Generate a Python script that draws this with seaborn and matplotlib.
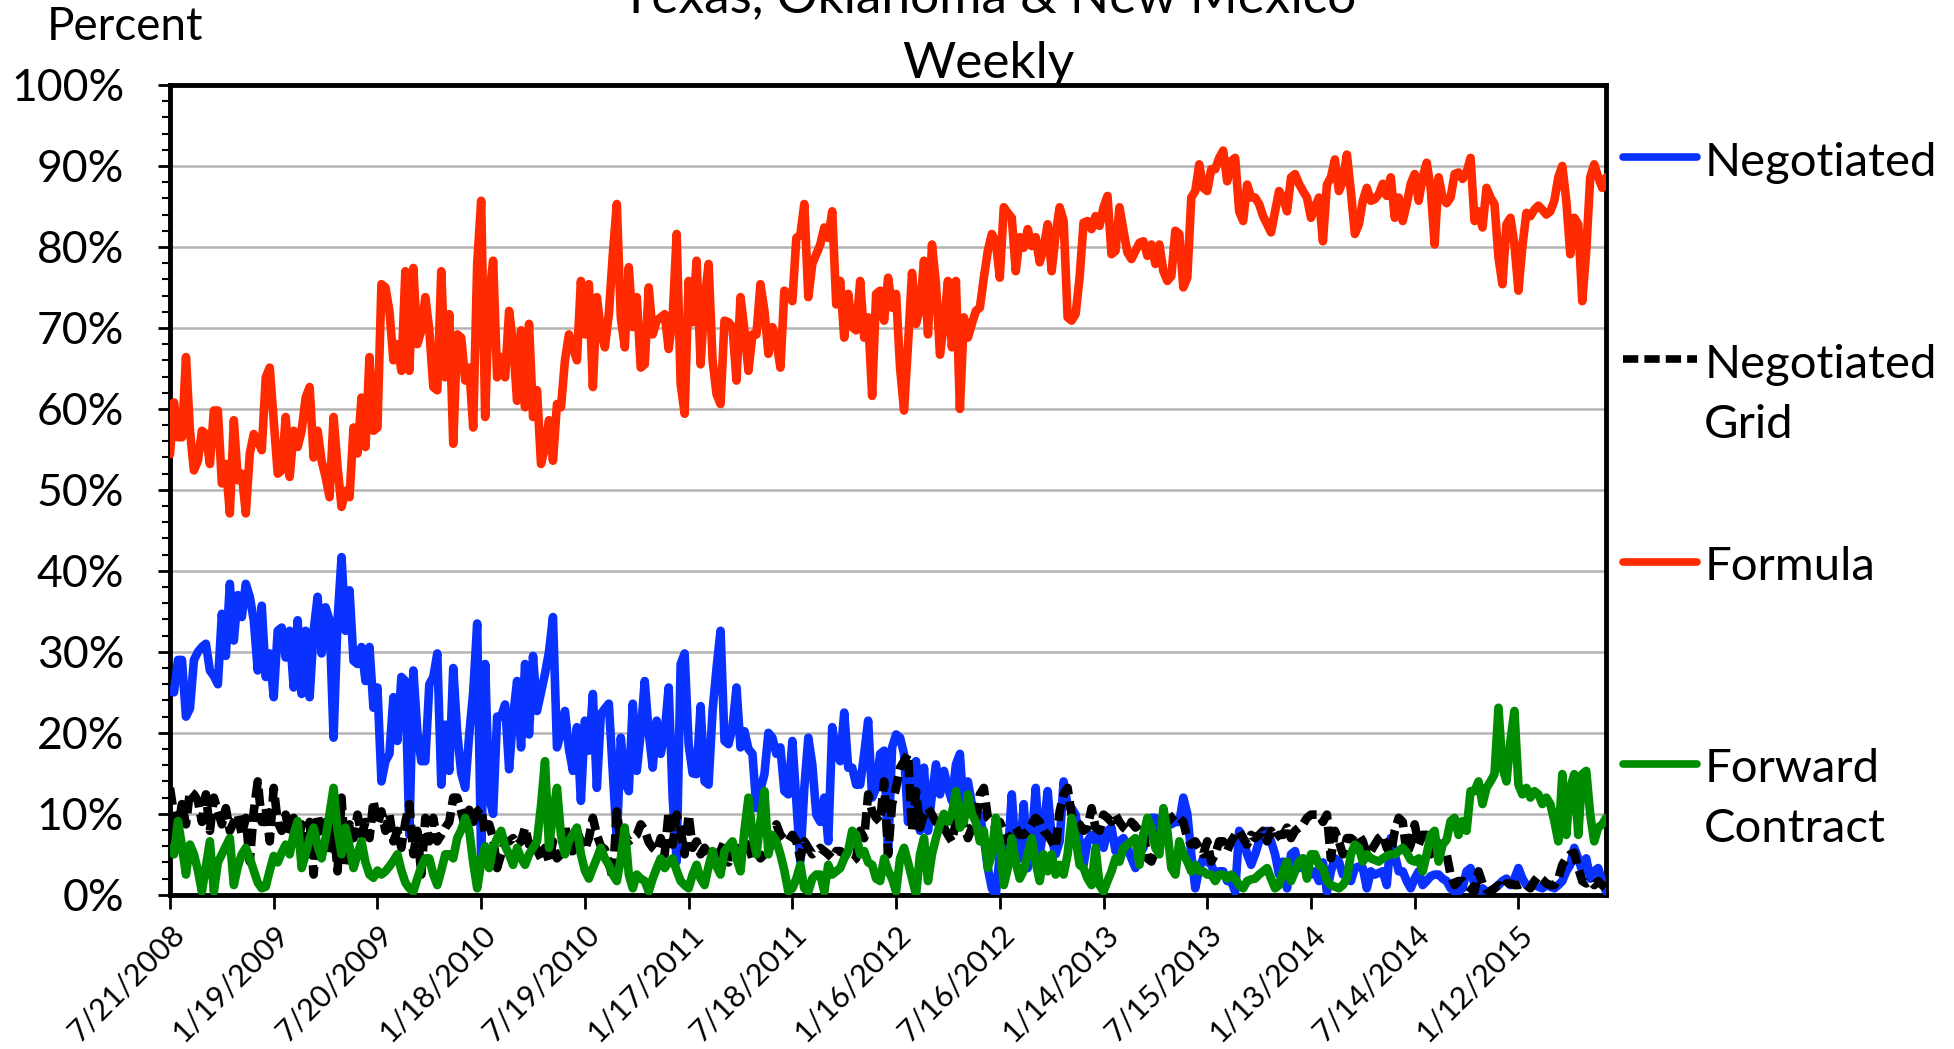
#Texas, Oklahoma & New Mexico - weekly share of purchase types

import numpy as np
import pandas as pd
import matplotlib
matplotlib.use("Agg")
import matplotlib.pyplot as plt
import seaborn as sns
from matplotlib.ticker import PercentFormatter, MultipleLocator
from matplotlib.legend_handler import HandlerLine2D
from matplotlib.lines import Line2D

# weekly values in percent, first week is 7/21/2008
first_week = "2008-07-21"

negotiated = [
    25.2, 25, 29, 29, 22, 23, 29, 30, 30.6, 31,
    27.7, 27, 26, 34.7, 29.5, 38.4, 31.4, 37, 34.3, 38.4,
    36.8, 33.9, 27.7, 35.7, 26.9, 29.8, 24.4, 32.6, 33, 29.3,
    32.6, 25.6, 33.9, 24.8, 32.6, 24.4, 32.6, 36.8, 29.8, 35.5,
    33.9, 19.4, 33.9, 41.7, 32.6, 37.6, 28.9, 28.5, 30.6, 26.4,
    30.6, 23.1, 25.6, 14, 16.5, 17.4, 24.4, 19, 26.9, 26.4,
    7.4, 27.7, 20.2, 16.5, 16.5, 26, 26.9, 29.8, 13.6, 21,
    15.3, 28, 20, 15, 13.2, 19.8, 25, 33.5, 4.1, 28.5,
    12, 10, 22, 22, 23.5, 15.5, 22, 26.4, 18.2, 28.5,
    19.8, 29.5, 22.7, 25, 27.3, 30, 34.3, 18.2, 20, 22.7,
    18, 15.3, 20.7, 11.6, 21.5, 17.8, 24.8, 13.2, 22.3, 23,
    23.6, 15, 6.6, 19.4, 14, 12.8, 23.6, 15.3, 20, 26.4,
    20, 15.7, 21.5, 17.4, 20, 25.6, 12, 4.1, 28.5, 29.8,
    18.6, 15, 14.9, 23.3, 14, 13.6, 22.7, 28, 32.6, 19,
    18.6, 20.7, 25.6, 18.2, 20.2, 18, 17.4, 10.7, 13, 14.9,
    20, 19.4, 17.4, 18.2, 12.8, 12.4, 19, 11.6, 4.1, 13.2,
    19.4, 16.1, 9.9, 9, 12, 6.6, 20.7, 17.4, 16.5, 22.5,
    15.7, 15.7, 13.6, 13.6, 17.4, 21.5, 12, 13.2, 17.4, 17.8,
    5, 18.2, 19.8, 19.4, 17.4, 9, 14.9, 16.5, 7.9, 15.7,
    7.9, 12.4, 16.1, 12.4, 15.3, 13.2, 11.6, 16.1, 17.4, 9.9,
    14, 11.2, 9, 9.9, 7, 3.3, 0.8, 0, 5, 6.6,
    4.5, 12.4, 5.4, 4.5, 11.2, 3.3, 6.6, 13.2, 5, 8.3,
    12.8, 7, 5, 6.6, 14, 11, 10.7, 9.9, 6.6, 3.7,
    6.6, 7.4, 6.6, 7.4, 5.8, 7.9, 8.3, 5.4, 6.6, 7,
    5.8, 4.5, 3.3, 5, 5.8, 7.9, 9.5, 9.5, 7.9, 6.6,
    8.7, 8.7, 9, 9, 12, 10, 5, 0.8, 3.3, 4.5,
    4.1, 3.7, 2.5, 2.9, 2.9, 1.7, 1.7, 0.4, 7.9, 7,
    5, 3.7, 5, 6.6, 7.4, 7.9, 6.6, 5, 2.5, 4.1,
    0.8, 5, 5.4, 3.3, 4.5, 2.5, 2.5, 2.9, 1.7, 4,
    0.4, 2.9, 4.5, 4.1, 2.5, 2.9, 1.7, 3.3, 3.5, 3.3,
    0.8, 2.9, 2.5, 2.7, 2.9, 1.2, 7, 5, 2.9, 2.9,
    1.7, 0.8, 2, 2.9, 1.2, 1.7, 2.3, 2.5, 2.5, 2,
    1.7, 0.8, 0.4, 0.4, 0.8, 2.9, 3.3, 1.2, 0.4, 0.8,
    0.4, 0.4, 0.8, 1.2, 1.7, 2, 1.2, 2, 3.3, 2,
    1.2, 1.2, 1.2, 1, 0.8, 1.2, 1, 0.8, 1.2, 1.7,
    2.9, 3.7, 5.8, 4.5, 2.9, 4.5, 2, 2.9, 3.3, 1.7,
    0.4,
]

negotiated_grid = [
    13.2, 9.9, 8.3, 11.2, 8.7, 12.8, 12.4, 11.6, 9, 12.4,
    7.9, 12, 10.3, 8.7, 10.7, 7.9, 9, 9.9, 7.4, 9.5,
    4.1, 10.3, 14, 9, 10.7, 6.6, 13.2, 9, 7.9, 9.9,
    7.4, 9.5, 6.2, 8.7, 6.6, 9, 2.5, 9.9, 7, 9,
    5, 8.7, 2.9, 12, 3.7, 8.7, 7, 9.9, 7.4, 9,
    7, 11.6, 8.7, 10.3, 7.9, 9.9, 6.6, 7.9, 5.8, 9,
    11.2, 5, 7.9, 2.5, 9.5, 6.6, 9.5, 6.6, 7.4, 8.3,
    9, 12, 12, 10.3, 8.3, 10.5, 9, 10.3, 10.7, 7.5,
    8.7, 7, 3.3, 5, 6.6, 6.6, 7, 6.2, 6.6, 8.3,
    6.2, 7, 5.5, 4.5, 5.8, 4.1, 6.6, 4.5, 5, 8.7,
    5.4, 5.4, 7.9, 6.6, 5.6, 7, 9.5, 7.4, 6, 5.6,
    4, 2, 10.3, 6.5, 7.4, 6.6, 7, 7.4, 8.7, 8,
    6.5, 5.8, 5.4, 7, 5, 10.3, 6.2, 9.9, 8, 5,
    9.9, 5.8, 6.6, 5, 5.8, 5, 5.4, 5, 5.4, 6.6,
    4, 5.4, 5.8, 5.5, 6.5, 6, 4.5, 5.4, 4.5, 5,
    5.4, 6.6, 8.7, 7.4, 6.8, 6.6, 7.4, 6.6, 4.5, 6.6,
    5.8, 5, 5.4, 5.8, 5.4, 5, 4.5, 5.4, 5.4, 5,
    4.5, 4.1, 4.5, 7.9, 7, 12.4, 10.3, 9.5, 9, 14,
    5, 11.2, 13.2, 15.7, 16.5, 17.4, 7.9, 12.8, 8.3, 9.9,
    10.7, 9.9, 9, 8.7, 8.3, 7.4, 6.6, 9, 10.3, 8.7,
    7, 8.3, 9, 12.4, 13.2, 9.5, 9, 8.3, 9, 7.9,
    6.6, 7.4, 8.3, 7.4, 7.4, 7.9, 8.7, 9.5, 9, 7.9,
    7.4, 6.6, 5.8, 10.3, 12.4, 13.2, 9.9, 9, 8.7, 7.9,
    8.3, 10.7, 8.3, 7.9, 9.9, 9.5, 9, 9.9, 9, 8.3,
    7.9, 9, 8.3, 8.7, 7.9, 4.5, 4.1, 5.4, 7.9, 9,
    9, 9.5, 9.9, 9.5, 9, 7, 6.2, 6.6, 5.8, 5,
    6.6, 4.1, 5, 6.6, 6.6, 5.4, 6.6, 7.4, 7.9, 7,
    6.2, 7.4, 7, 7.4, 7.9, 6.6, 7.9, 7, 7.4, 7.4,
    8.3, 7, 7.9, 8.3, 8.7, 9.5, 9.9, 9.9, 9.9, 9,
    9.9, 4.5, 7.9, 6.6, 5, 7, 7, 6.6, 7.4, 6.6,
    5, 5.4, 6.2, 7, 7.4, 5.8, 5, 7.9, 9.5, 9,
    5, 6.2, 8.7, 6.2, 7.4, 7.4, 5, 7, 6.2, 5.4,
    5, 2.5, 1.2, 1.7, 1.7, 1.2, 0.8, 0.4, 2.9, 1.4,
    0.6, 0.4, 0.8, 1.2, 0.8, 1.4, 1.4, 1.2, 1.2, 1.4,
    1.2, 0.8, 1.7, 2.3, 1.9, 1.4, 1.2, 1.2, 2, 3.7,
    4.5, 5, 5.2, 3.3, 1.7, 1.4, 1.7, 1.2, 1.7, 1.2,
    0.8,
]

formula = [
    54.4, 60.8, 56.5, 56.5, 66.4, 57.3, 52.4, 53.6, 57.3, 56.9,
    53.2, 59.8, 59.8, 50.8, 53.2, 47.1, 58.6, 51.2, 52, 47.1,
    54.5, 56.9, 56.1, 54.9, 63.9, 65.1, 58.6, 52, 52.4, 59,
    51.6, 57.3, 55.3, 57.3, 61.4, 62.7, 54, 57.3, 53.6, 51.6,
    49.1, 59, 52.8, 47.9, 49.9, 49.1, 57.7, 54.5, 61.4, 55.3,
    66.4, 57.3, 57.7, 75.4, 75, 72.1, 66, 68, 64.7, 77,
    64.7, 77.4, 68, 69.7, 73.8, 69.7, 62.7, 62.3, 77, 63.9,
    71.7, 55.7, 69.2, 68.8, 63.5, 65.1, 57.7, 77.9, 85.7, 59,
    73.8, 78.3, 63.9, 66.4, 63.9, 72.1, 68, 61, 69.7, 60.2,
    70.5, 59, 62.3, 53.2, 55.3, 58.6, 53.6, 60.6, 60.2, 66,
    69.2, 67.6, 66, 75.8, 69.2, 75.4, 62.7, 73.8, 69.7, 67.6,
    71.7, 79.1, 85.3, 71.3, 67.6, 77.5, 70.1, 73.8, 65.1, 65.5,
    75, 69.2, 70.9, 71.3, 71.7, 67.4, 71.3, 81.6, 63.1, 59.4,
    75.8, 70.7, 78.3, 65.5, 73.3, 77.9, 66, 61.8, 60.6, 70.9,
    70.7, 70.1, 63.5, 73.8, 69.7, 64.7, 69.2, 69.2, 75.4, 72.1,
    66.8, 70.1, 68.4, 65.1, 74.6, 74.2, 73.3, 81.1, 81.5, 85.3,
    73.8, 77.9, 79.1, 80.3, 82.4, 81.1, 84.4, 72.9, 75.8, 68.8,
    74.2, 70.1, 69.7, 75.8, 68.8, 71.3, 61.6, 74.2, 74.6, 70.9,
    76.2, 72.5, 74.2, 65.1, 59.8, 68, 76.8, 70.5, 72.5, 78.3,
    69.2, 80.3, 75.4, 66.7, 70.5, 75.8, 67.6, 75.8, 60, 71.3,
    68.8, 70.5, 72.1, 72.5, 76.2, 79.5, 81.6, 80.7, 76.2, 84.9,
    84.2, 83.6, 77, 81.2, 79.9, 82.2, 80.1, 81.2, 78.1, 79.9,
    82.8, 77, 81.6, 84.9, 83.2, 71.3, 70.9, 71.7, 76.2, 83,
    83.2, 82.2, 83.8, 82.6, 84.9, 86.3, 79.1, 79.5, 84.9, 82,
    79.3, 78.5, 79.5, 80.5, 80.7, 78.9, 80.3, 77.9, 80.3, 77,
    75.8, 76.4, 82, 81.6, 75, 76.2, 86.1, 86.9, 90.2, 87.3,
    86.9, 89.6, 89.6, 91, 91.9, 88.1, 90.6, 91, 84.4, 83.2,
    87.7, 86.1, 86.1, 85.3, 83.8, 82.8, 81.8, 84.4, 86.9, 86.1,
    84.4, 88.6, 89, 87.8, 86.9, 86.1, 83.6, 84.9, 86.1, 80.7,
    87.7, 88.6, 90.8, 86.9, 88.1, 91.4, 86.9, 81.6, 82.8, 85.7,
    87.3, 85.7, 85.9, 86.5, 87.8, 86.3, 88.6, 83.6, 86.1, 83.2,
    85.3, 87.8, 89, 85.7, 88.6, 90.4, 87.3, 80.3, 88.6, 86.1,
    85.4, 86.1, 89, 89.2, 88.4, 89.2, 91, 83.2, 84.4, 82.4,
    87.3, 86.1, 85.3, 78.7, 75.4, 82.8, 83.6, 80.3, 74.6, 80.1,
    84.2, 83.8, 84.6, 85.1, 84.6, 84, 84.4, 85.7, 88.6, 90,
    85.7, 79.1, 83.6, 82.8, 73.3, 79.5, 88.6, 90.2, 88.6, 87.3,
    88.6,
]

forward_contract = [
    5.8, 5.0, 9.1, 6.0, 2.5, 6.2, 5.0, 3.0, 0.4, 3.5,
    6.6, 0.4, 4.0, 5.0, 6.0, 7.0, 1.2, 3.5, 5.0, 5.8,
    4.5, 3.0, 1.5, 0.8, 1.0, 3.0, 4.8, 4.0, 5.2, 6.2,
    5.0, 7.5, 9.1, 3.3, 5.0, 7.0, 8.3, 6.0, 4.5, 7.0,
    10.0, 13.2, 8.0, 5.0, 8.3, 6.0, 3.3, 5.0, 6.6, 4.0,
    2.5, 2.1, 3.0, 2.5, 2.9, 3.5, 4.2, 5.0, 3.0, 1.5,
    0.8, 0.4, 2.0, 3.5, 4.5, 4.5, 2.5, 1.2, 3.0, 5.0,
    5.0, 4.5, 7, 8, 9.5, 8, 4, 0.8, 4, 6,
    3.3, 5.8, 7, 7.9, 6, 5, 3.7, 5.8, 4.5, 3.7,
    5, 5.8, 6.6, 11, 16.5, 5.8, 10, 13.2, 7.4, 5,
    6.6, 7.5, 8.3, 5, 3, 2, 3.3, 4.5, 5.8, 4.5,
    3.7, 2.5, 1.7, 4.5, 8.3, 2.5, 0.8, 2.5, 2, 1.7,
    0.4, 2, 3.3, 4.5, 3.3, 4, 4.5, 3, 1.7, 1.2,
    0.8, 2.5, 3.7, 2, 1.2, 3.5, 5.4, 3.5, 2.5, 5.4,
    6, 6.6, 4.5, 2.9, 8, 12, 7.4, 5, 9.1, 12.8,
    5, 7.4, 6.6, 5, 3, 0.4, 0.8, 2, 3.7, 0.8,
    0.4, 2, 2.5, 2.5, 0.4, 3.7, 2.5, 2.9, 3.3, 4.5,
    5.4, 7.9, 7.4, 5, 5.4, 4, 3.7, 2, 1.7, 4.5,
    3, 2, 0.4, 4.5, 5.8, 4, 2, 0, 5, 7,
    1.7, 5, 7, 8.7, 10, 9, 10, 12.8, 8.3, 9,
    12.4, 10, 9, 6.6, 7.9, 3.3, 5, 9.5, 6.6, 1.2,
    3.3, 7, 4, 2, 3, 5, 7, 4, 1.7, 5,
    2.9, 5, 2.5, 3.7, 2.5, 5, 9.5, 7, 3.7, 3.3,
    2, 1.2, 5.8, 1.2, 0.4, 1.7, 2.9, 4.5, 4.1, 5.8,
    6.2, 6.6, 7, 3.7, 7.4, 9.5, 8.3, 5.8, 5, 10.7,
    7.9, 3.3, 2.5, 6.6, 5, 4.1, 2.9, 3.7, 2.9, 2.9,
    2.5, 2.5, 1.7, 2.5, 2.5, 2, 2.5, 2, 1.2, 0.8,
    1.7, 1.9, 2, 2.5, 2.9, 3.3, 2, 0.8, 1.2, 2.9,
    4.1, 1.7, 2.9, 4.1, 4.5, 2, 5, 5, 3.7, 3.3,
    1.7, 1.2, 1, 0.8, 1.2, 2, 5, 6.2, 5.8, 4.1,
    5, 4.5, 4.3, 4.1, 4.5, 4.8, 5, 5, 5.4, 5.8,
    5.2, 4.3, 4.1, 4.5, 2.9, 5, 7.4, 7.9, 4.1, 6.2,
    6.8, 9.1, 9.5, 7.4, 9.1, 7.9, 12.8, 12.8, 14, 11.2,
    13.2, 14, 14.9, 23.1, 15.7, 14, 19, 22.7, 13.6, 12.4,
    13.2, 12, 12.8, 12.4, 11.2, 12, 11.2, 9.1, 6.6, 14.9,
    7.4, 13.2, 14.9, 7.4, 14.9, 15.3, 9.9, 6.6, 8.3, 8.7,
    9.5,
]

series_names = ["Negotiated", "Negotiated Grid", "Formula", "Forward Contract"]
legend_labels = ["Negotiated\n", "Negotiated\nGrid", "Formula\n", "Forward\nContract"]
series_colors = ["#0a32ff", "#000000", "#ff2a00", "#008c00"]

weeks = pd.date_range(first_week, periods=len(formula), freq="7D")
df = pd.DataFrame({
    "Week": weeks,
    "Negotiated": negotiated,
    "Negotiated Grid": negotiated_grid,
    "Formula": formula,
    "Forward Contract": forward_contract,
})
long = df.melt(id_vars="Week", var_name="Series", value_name="Percent")

sns.set_style("white")
plt.rcParams["font.family"] = ["Lato", "DejaVu Sans"]
plt.rcParams["text.color"] = "black"
plt.rcParams["xtick.color"] = "black"
plt.rcParams["ytick.color"] = "black"

fig = plt.figure(figsize=(19.54, 10.49), dpi=100)
ax = fig.add_axes([0.087, 0.147, 0.735, 0.772])

sns.lineplot(
    data=long, x="Week", y="Percent",
    hue="Series", style="Series",
    hue_order=series_names, style_order=series_names,
    palette=dict(zip(series_names, series_colors)),
    dashes={"Negotiated": "", "Negotiated Grid": (2.0, 0.8),
            "Formula": "", "Forward Contract": ""},
    linewidth=6.2, errorbar=None, ax=ax, zorder=3,
)

# axes
ax.set_xlim(weeks[0], weeks[-1])
ax.set_ylim(0, 100)
ax.yaxis.set_major_locator(MultipleLocator(10))
ax.yaxis.set_minor_locator(MultipleLocator(2))
ax.yaxis.set_major_formatter(PercentFormatter(100, decimals=0))
tick_weeks = weeks[::26]
ax.set_xticks(tick_weeks)
ax.set_xticklabels([f"{d.month}/{d.day}/{d.year}" for d in tick_weeks])
ax.set_xlabel("")
ax.set_ylabel("")

ax.tick_params(axis="y", which="major", direction="out", length=9, width=2,
               labelsize=32, pad=24, left=True)
ax.tick_params(axis="y", which="minor", direction="out", length=6, width=1.5, left=True)
ax.tick_params(axis="x", which="major", direction="out", length=10, width=2,
               labelsize=22, pad=8, bottom=True, labelrotation=45)
for lbl in ax.get_xticklabels():
    lbl.set_ha("right")
    lbl.set_rotation_mode("anchor")

for s in ax.spines.values():
    s.set_linewidth(3.5)
    s.set_color("black")

ax.yaxis.grid(True, color="#b4b4b4", linewidth=1.8)
ax.xaxis.grid(False)
ax.set_axisbelow(True)

# legend, line sample next to the first line of each label
class FirstLineHandler(HandlerLine2D):
    def create_artists(self, legend, orig_handle, xdescent, ydescent,
                       width, height, fontsize, trans):
        artists = super().create_artists(legend, orig_handle, xdescent, ydescent,
                                         width, height, fontsize, trans)
        for a in artists:
            a.set_ydata(np.asarray(a.get_ydata()) + 0.76 * fontsize)
        return artists

handles, labels = ax.get_legend_handles_labels()
hmap = dict(zip(labels, handles))
leg_handles = [hmap[n] for n in series_names]
ax.get_legend().remove()
for h in leg_handles:
    h.set_linewidth(5.5)

leg = fig.legend(
    leg_handles, legend_labels, loc="upper left",
    bbox_to_anchor=(0.8306, 0.865), bbox_transform=fig.transFigure,
    frameon=False, fontsize=34, handlelength=1.57, handletextpad=0.15,
    labelspacing=2.13, borderpad=0, borderaxespad=0,
    handler_map={Line2D: FirstLineHandler()},
)
for t in leg.get_texts():
    t.set_linespacing(1.52)

# titles
fig.text(0.024, 0.962, "Percent", fontsize=33, ha="left", va="baseline")
fig.text(0.506, 0.988, "Texas, Oklahoma & New Mexico", fontsize=37,
         ha="center", va="baseline")
fig.text(0.506, 0.926, "Weekly", fontsize=37, ha="center", va="baseline")

fig.savefig("out.png", dpi=100)
